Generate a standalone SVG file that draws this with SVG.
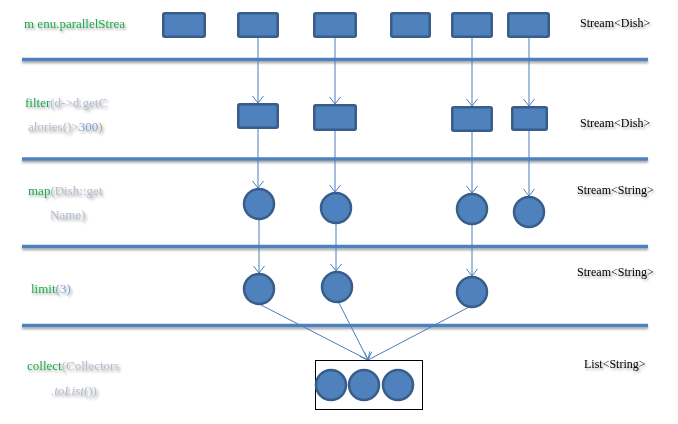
<svg xmlns="http://www.w3.org/2000/svg" width="678" height="424" viewBox="0 0 678 424">
<defs>
<filter id="ts" x="-10%" y="-40%" width="130%" height="200%">
<feDropShadow dx="1.5" dy="2" stdDeviation="1.2" flood-color="#000" flood-opacity="0.35"/>
</filter>
<filter id="ls" x="-5%" y="-200%" width="110%" height="600%">
<feDropShadow dx="0" dy="2" stdDeviation="1.3" flood-color="#000" flood-opacity="0.35"/>
</filter>
<marker id="arr" viewBox="-8 -6 9 12" markerWidth="9" markerHeight="12" refX="0" refY="0" orient="auto" markerUnits="userSpaceOnUse">
<path d="M-7,-5.5 L0,0 L-7,5.5" fill="none" stroke="#4a7ebb" stroke-width="1"/>
</marker>
</defs>
<style>
.bg{fill:#ffffff}
.sep{stroke:#4f81bd;stroke-width:3.5;fill:none}
.box{fill:#4f81bd;stroke:#385d8a;stroke-width:2.5}
.con{stroke:#4a7ebb;stroke-width:1;fill:none;marker-end:url(#arr)}
.lbl{font-family:"Liberation Serif","Times New Roman",serif;font-size:13px}
.typ{font-family:"Liberation Serif","Times New Roman",serif;font-size:12px;fill:#000}
.g{fill:#1fa84c}
.gr{fill:#b3bccb}
.bl{fill:#7fa0cf}
.yl{fill:#9bbb59}
.frame{fill:#fff;stroke:#000;stroke-width:1}
</style>
<rect class="bg" x="0" y="0" width="678" height="424"/>

<g id="separators" filter="url(#ls)">
<line class="sep" x1="22" y1="59.5" x2="648" y2="59.5"/>
<line class="sep" x1="22" y1="159" x2="648" y2="159"/>
<line class="sep" x1="22" y1="246.5" x2="648" y2="246.5"/>
<line class="sep" x1="22" y1="325.5" x2="648" y2="325.5"/>
</g>

<g id="labels" filter="url(#ts)">
<text class="lbl g" x="24" y="28">m enu.parallelStrea</text>
<text class="lbl" x="25" y="107"><tspan class="g">filter</tspan><tspan class="gr">(d-&gt;d.getC</tspan></text>
<text class="lbl" x="28" y="131"><tspan class="gr">alories()&gt;</tspan><tspan class="bl">300</tspan><tspan class="yl">)</tspan></text>
<text class="lbl" x="28" y="195"><tspan class="g">map</tspan><tspan class="gr">(Dish::get</tspan></text>
<text class="lbl gr" x="50" y="219">Name)</text>
<text class="lbl" x="31" y="293"><tspan class="g">limit</tspan><tspan class="bl">(3)</tspan></text>
<text class="lbl" x="27" y="370"><tspan class="g">collect</tspan><tspan class="gr">(Collectors</tspan></text>
<text class="lbl gr" x="51" y="395"><tspan font-style="italic">.toList</tspan>())</text>
<text class="typ" x="580" y="27">Stream&lt;Dish&gt;</text>
<text class="typ" x="580" y="127">Stream&lt;Dish&gt;</text>
<text class="typ" x="577" y="194">Stream&lt;String&gt;</text>
<text class="typ" x="577" y="276">Stream&lt;String&gt;</text>
<text class="typ" x="584" y="368">List&lt;String&gt;</text>
</g>

<g id="connectors">
<line class="con" x1="258" y1="38" x2="258" y2="103"/>
<line class="con" x1="335" y1="38" x2="335" y2="104"/>
<line class="con" x1="472" y1="38" x2="472" y2="106"/>
<line class="con" x1="529" y1="38" x2="529" y2="106"/>
<line class="con" x1="258" y1="129" x2="258" y2="188"/>
<line class="con" x1="335" y1="131" x2="335" y2="192"/>
<line class="con" x1="472" y1="132" x2="472" y2="193"/>
<line class="con" x1="529" y1="131" x2="529" y2="196"/>
<line class="con" x1="259" y1="220" x2="259" y2="273"/>
<line class="con" x1="336" y1="224" x2="336" y2="271"/>
<line class="con" x1="472" y1="225" x2="472" y2="276"/>
<line class="con" x1="261" y1="305" x2="368" y2="360"/>
<line class="con" x1="339" y1="303" x2="368" y2="360"/>
<line class="con" x1="469" y1="307" x2="368" y2="360"/>
</g>

<g id="source">
<rect class="box" x="163.25" y="13.25" width="41.5" height="23.5" rx="1.5"/>
<rect class="box" x="238.25" y="13.25" width="39.5" height="23.5" rx="1.5"/>
<rect class="box" x="314.25" y="13.25" width="41.5" height="23.5" rx="1.5"/>
<rect class="box" x="391.25" y="13.25" width="38.5" height="23.5" rx="1.5"/>
<rect class="box" x="452.25" y="13.25" width="39.5" height="23.5" rx="1.5"/>
<rect class="box" x="508.25" y="13.25" width="40.5" height="23.5" rx="1.5"/>
</g>

<g id="filtered">
<rect class="box" x="238.25" y="104.25" width="39.5" height="23.5" rx="1.5"/>
<rect class="box" x="314.25" y="105.25" width="41.5" height="24.5" rx="1.5"/>
<rect class="box" x="452.25" y="107.25" width="39.5" height="23.5" rx="1.5"/>
<rect class="box" x="512.25" y="107.25" width="34.5" height="22.5" rx="1.5"/>
</g>

<g id="mapped">
<circle class="box" cx="259" cy="204" r="15"/>
<circle class="box" cx="336" cy="208" r="15"/>
<circle class="box" cx="472" cy="209" r="15"/>
<circle class="box" cx="529" cy="212" r="15"/>
</g>

<g id="limited">
<circle class="box" cx="259" cy="289" r="15"/>
<circle class="box" cx="337" cy="287" r="15"/>
<circle class="box" cx="472" cy="292" r="15"/>
</g>

<g id="collected">
<rect class="frame" x="315.5" y="360.5" width="107" height="49"/>
<circle class="box" cx="331" cy="385" r="15"/>
<circle class="box" cx="364" cy="385" r="15"/>
<circle class="box" cx="398" cy="385" r="15"/>
</g>
</svg>
